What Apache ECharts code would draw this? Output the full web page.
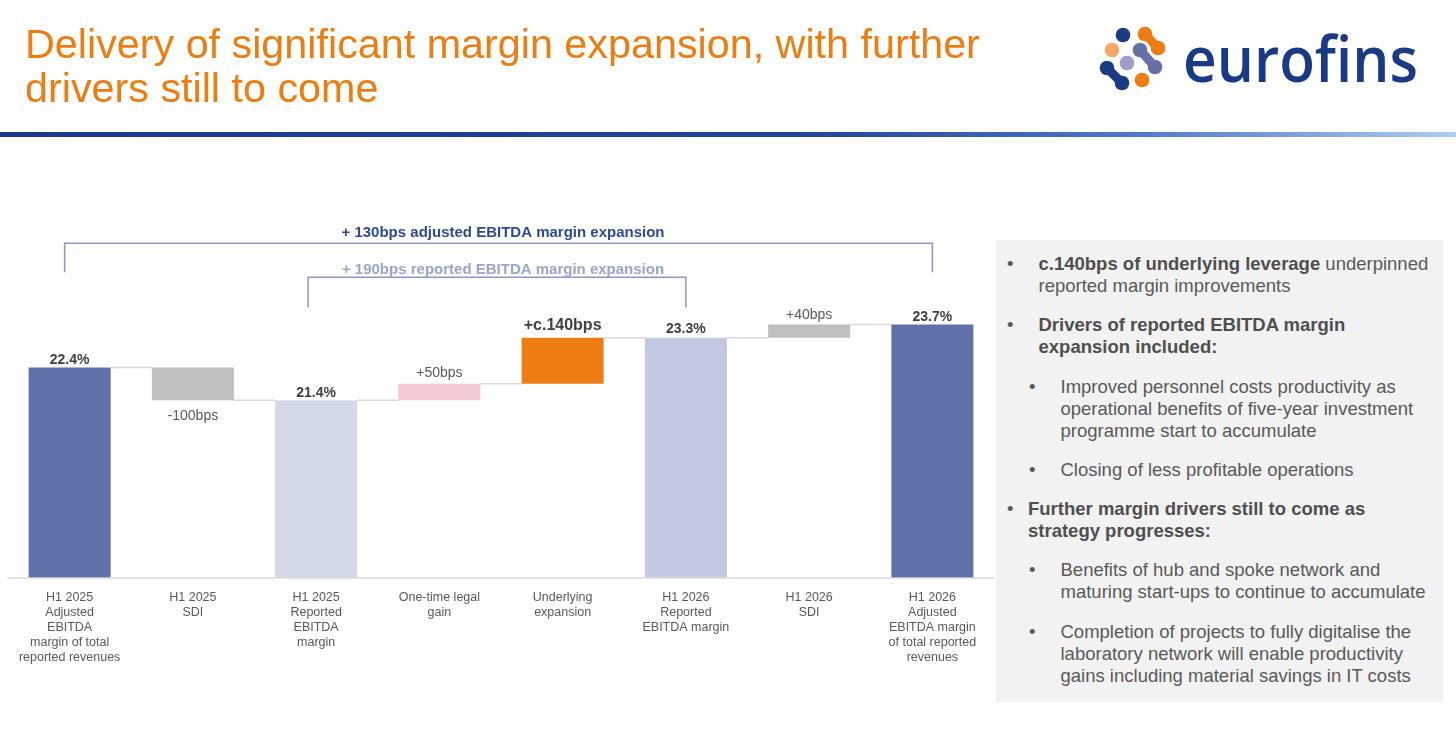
<!DOCTYPE html>
<html lang="en">
<head>
<meta charset="UTF-8">
<title>Delivery of significant margin expansion</title>
<style>
  body { margin: 0; width: 1456px; height: 741px; position: relative; overflow: hidden; background: #fff;
         font-family: 'Liberation Sans', Arial, sans-serif; }
  #main { position: absolute; left: 0; top: 0; width: 1456px; height: 741px; }
  .title { position: absolute; left: 25px; top: 22px; font-size: 41.3px; line-height: 44px; color: #EE7D11; white-space: nowrap; }
  .rule { position: absolute; left: 0; top: 132px; width: 1456px; height: 5px;
          background: linear-gradient(to right, #1B3A86 0%, #21439A 55%, #4F78C6 78%, #AFCBF4 100%); }
  .logo { position: absolute; left: 1090px; top: 10px; }
  .panel { position: absolute; left: 996px; top: 240px; width: 447px; height: 462px; background: #F2F2F2; }
  .p { position: absolute; font-size: 18.5px; line-height: 22px; color: #595959; white-space: nowrap; }
  .p b { color: #4F4F4F; }
</style>
</head>
<body>
<div id="main"></div>

<div class="title">Delivery of significant margin expansion, with further<br>drivers still to come</div>
<div class="rule"></div>
<svg class="logo" width="360" height="90" viewBox="1090 10 360 90">
  <g stroke-linecap="round">
    <circle cx="1123" cy="35" r="7.3" fill="#1B3A86"/>
    <line x1="1145" y1="34" x2="1158" y2="48" stroke="#EE7D11" stroke-width="9"/>
    <circle cx="1145" cy="34" r="7.3" fill="#EE7D11"/>
    <circle cx="1158" cy="48" r="7.3" fill="#EE7D11"/>
    <circle cx="1112" cy="50" r="7.3" fill="#F4A86C"/>
    <line x1="1140" y1="50" x2="1155" y2="67" stroke="#6670A8" stroke-width="9"/>
    <circle cx="1140" cy="50" r="7.3" fill="#6670A8"/>
    <circle cx="1155" cy="67" r="7.3" fill="#6670A8"/>
    <circle cx="1127" cy="63" r="7.3" fill="#9C9ECD"/>
    <line x1="1107" y1="68" x2="1122" y2="83" stroke="#1B3A86" stroke-width="9"/>
    <circle cx="1107" cy="68" r="7.3" fill="#1B3A86"/>
    <circle cx="1122" cy="83" r="7.3" fill="#1B3A86"/>
    <circle cx="1142" cy="80" r="7.3" fill="#EE7D11"/>
  </g>
  <text x="1183" y="82" font-family="'Open Sans', 'DejaVu Sans', sans-serif" font-size="64" font-weight="600" fill="#1B3A86"
        textLength="235" lengthAdjust="spacingAndGlyphs">eurofins</text>
</svg>

<div class="panel"></div>
<div class="p" style="left:1007px;top:252.5px">•</div>
<div class="p" style="left:1038.5px;top:252.5px"><b>c.140bps of underlying leverage</b> underpinned<br>reported margin improvements</div>
<div class="p" style="left:1007px;top:314px">•</div>
<div class="p" style="left:1038.5px;top:314px"><b>Drivers of reported EBITDA margin<br>expansion included:</b></div>
<div class="p" style="left:1029px;top:376px">•</div>
<div class="p" style="left:1060.5px;top:376px">Improved personnel costs productivity as<br>operational benefits of five-year investment<br>programme start to accumulate</div>
<div class="p" style="left:1029px;top:459px">•</div>
<div class="p" style="left:1060.5px;top:459px">Closing of less profitable operations</div>
<div class="p" style="left:1007px;top:497.5px">•</div>
<div class="p" style="left:1028px;top:497.5px"><b>Further margin drivers still to come as<br>strategy progresses:</b></div>
<div class="p" style="left:1029px;top:559px">•</div>
<div class="p" style="left:1060.5px;top:559px">Benefits of hub and spoke network and<br>maturing start-ups to continue to accumulate</div>
<div class="p" style="left:1029px;top:621px">•</div>
<div class="p" style="left:1060.5px;top:621px">Completion of projects to fully digitalise the<br>laboratory network will enable productivity<br>gains including material savings in IT costs</div>

<script src="https://cdn.jsdelivr.net/npm/echarts@6/dist/echarts.min.js"></script>
<script>
// categories on the x axis
var categories = [
  'H1 2025\nAdjusted\nEBITDA\nmargin of total\nreported revenues',
  'H1 2025\nSDI',
  'H1 2025\nReported\nEBITDA\nmargin',
  'One-time legal\ngain',
  'Underlying\nexpansion',
  'H1 2026\nReported\nEBITDA margin',
  'H1 2026\nSDI',
  'H1 2026\nAdjusted\nEBITDA margin\nof total reported\nrevenues'
];
// margins in %, totals are absolute levels, the rest are steps
var values = [22.4, -1.0, 21.4, 0.5, 1.4, 23.3, 0.4, 23.7];
var isTotal = [true, false, true, false, false, true, false, true];
var valueLabels = ['22.4%', '-100bps', '21.4%', '+50bps', '+c.140bps', '23.3%', '+40bps', '23.7%'];
// brackets over the bars
var bracketFrom = [0, 2];
var bracketTo = [7, 5];
var bracketText = ['+ 130bps adjusted EBITDA margin expansion', '+ 190bps reported EBITDA margin expansion'];

// styles
var barColors = ['#6170A8', '#BFBFBF', '#D4D9E8', '#F4CBD2', '#ED7D12', '#C3C9E0', '#BFBFBF', '#6170A8'];
var labelGap = [0, 9, 0, 4, 4, 2, 2, 0];
var bracketColors = ['#2F4B8E', '#9AA5CB'];
var bracketLevels = [ // [text, line top, leg bottom] in axis units
  [26.5, 26.17, 25.29],
  [25.35, 25.14, 24.22]
];
var bracketLeftShift = [-5, -8];
var BAR_W = 82;
var FONT = "'Liberation Sans', Arial, sans-serif";

var myChart = echarts.init(document.getElementById('main'));

// waterfall: transparent base + visible part
var base = [], shown = [], levels = [];
var level = 0;
for (var i = 0; i < values.length; i++) {
  if (isTotal[i]) {
    base.push(0);
    shown.push(values[i]);
    level = values[i];
  } else {
    var next = Math.round((level + values[i]) * 100) / 100;
    base.push(Math.min(level, next));
    shown.push(Math.abs(values[i]));
    level = next;
  }
  levels.push(level);
}

var shownData = shown.map(function (v, i) {
  var bold = isTotal[i] || i === 4;
  var below = !isTotal[i] && values[i] < 0;
  return {
    value: v,
    itemStyle: { color: barColors[i] },
    label: {
      show: true,
      position: below ? 'bottom' : 'top',
      distance: labelGap[i],
      formatter: valueLabels[i],
      fontFamily: FONT,
      fontSize: i === 4 ? 16 : 14,
      fontWeight: bold ? 'bold' : 'normal',
      color: bold ? '#404040' : '#595959'
    }
  };
});

var connectorData = [];
for (var j = 0; j < levels.length - 1; j++) connectorData.push([j, levels[j]]);

option = {
  animation: false,
  grid: { left: 8, right: 462, top: 216, bottom: 163 },
  xAxis: {
    type: 'category',
    data: categories,
    axisTick: { show: false },
    axisLine: { lineStyle: { color: '#D9D9D9', width: 1.5 } },
    axisLabel: {
      interval: 0, margin: 12, color: '#595959',
      fontFamily: FONT, fontSize: 12.5, lineHeight: 15
    },
    z: 5
  },
  yAxis: {
    type: 'value', min: 16, max: 27, show: false,
    splitLine: { show: false }
  },
  series: [
    {
      type: 'custom',
      name: 'connectors',
      z: 1,
      data: connectorData,
      renderItem: function (params, api) {
        var p1 = api.coord([api.value(0), api.value(1)]);
        var p2 = api.coord([api.value(0) + 1, api.value(1)]);
        return {
          type: 'line',
          shape: { x1: p1[0] + BAR_W / 2, y1: p1[1], x2: p2[0] - BAR_W / 2, y2: p2[1] },
          style: { stroke: '#D9D9D9', lineWidth: 1.5 }
        };
      }
    },
    {
      type: 'bar', stack: 'wf', barWidth: BAR_W, z: 2,
      itemStyle: { color: 'transparent' },
      data: base
    },
    {
      type: 'bar', stack: 'wf', barWidth: BAR_W, z: 2,
      data: shownData
    },
    {
      type: 'custom',
      name: 'brackets',
      z: 3,
      data: bracketFrom.map(function (f, k) { return [f, bracketTo[k]]; }),
      renderItem: function (params, api) {
        var k = params.dataIndex;
        var lv = bracketLevels[k];
        var a = api.coord([api.value(0), lv[1]]);
        var b = api.coord([api.value(1), lv[1]]);
        var yb = api.coord([api.value(0), lv[2]])[1];
        var yt = api.coord([api.value(0), lv[0]])[1];
        var xa = a[0] + bracketLeftShift[k];
        return {
          type: 'group',
          children: [
            {
              type: 'polyline',
              shape: { points: [[xa, yb], [xa, a[1]], [b[0], b[1]], [b[0], yb]] },
              style: { stroke: '#8B97C1', lineWidth: 1.5, fill: null }
            },
            {
              type: 'text',
              x: (a[0] + b[0]) / 2 + 2, y: yt,
              style: {
                text: bracketText[k], fill: bracketColors[k],
                font: 'bold 15px ' + FONT, align: 'center', verticalAlign: 'middle'
              }
            }
          ]
        };
      }
    }
  ]
};

myChart.setOption(option);
</script>
</body>
</html>
